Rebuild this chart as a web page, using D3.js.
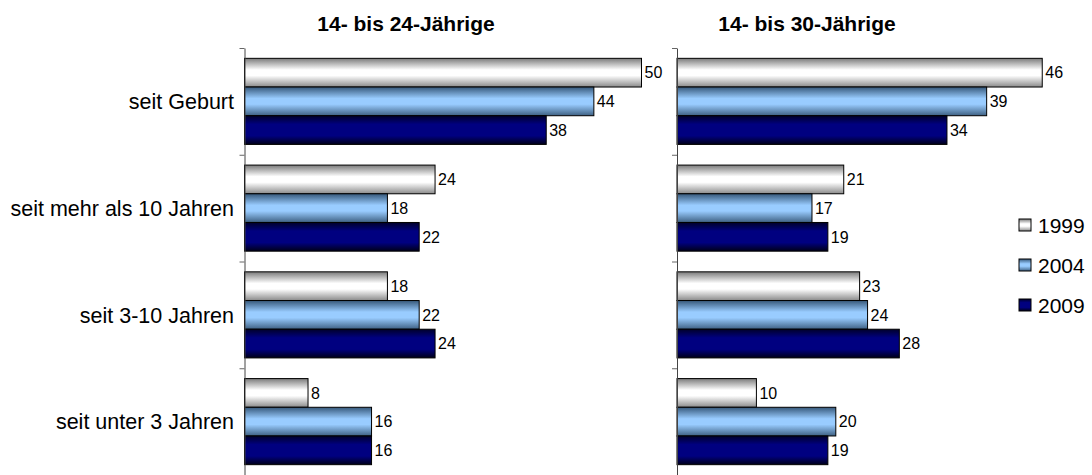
<!DOCTYPE html>
<html>
<head>
<meta charset="utf-8">
<script src="https://cdn.jsdelivr.net/npm/d3@7"></script>
<style>
  body { margin: 0; background: #fff; }
  svg text { font-family: "Liberation Sans", Arial, sans-serif; fill: #000; }
</style>
</head>
<body>
<div id="chart"></div>
<script>
// categories and series
var categories = ["seit Geburt", "seit mehr als 10 Jahren", "seit 3-10 Jahren", "seit unter 3 Jahren"];
var years = ["1999", "2004", "2009"];
var panelTitles = ["14- bis 24-Jährige", "14- bis 30-Jährige"];

// values per panel, one array per year (order follows categories)
var young1999 = [50, 24, 18, 8];
var young2004 = [44, 18, 22, 16];
var young2009 = [38, 22, 24, 16];

var older1999 = [46, 21, 23, 10];
var older2004 = [39, 17, 24, 20];
var older2009 = [34, 19, 28, 19];

var panels = [
    { title: panelTitles[0], series: [young1999, young2004, young2009], x0: 244.5, titleX: 406 },
    { title: panelTitles[1], series: [older1999, older2004, older2009], x0: 677, titleX: 807 }
];

var width = 1092, height = 475;
var pxPerUnit = 7.94;

var svg = d3.select("#chart").append("svg")
    .attr("width", width)
    .attr("height", height);

// gradients for the bars
var defs = svg.append("defs");
var grads = [
    { id: "g1999", stops: [[0, "#7a7a7a"], [0.4, "#ffffff"], [0.6, "#ffffff"], [1, "#8a8a8a"]] },
    { id: "g2004", stops: [[0, "#36587a"], [0.4, "#99ccff"], [0.6, "#99ccff"], [1, "#3e6082"]] },
    { id: "g2009", stops: [[0, "#00002a"], [0.3, "#000080"], [0.7, "#000080"], [1, "#000018"]] }
];
grads.forEach(function(g) {
    var lg = defs.append("linearGradient")
        .attr("id", g.id)
        .attr("x1", 0).attr("y1", 0).attr("x2", 0).attr("y2", 1);
    g.stops.forEach(function(s) {
        lg.append("stop").attr("offset", s[0]).attr("stop-color", s[1]);
    });
});

// vertical layout shared by both panels
var y = d3.scaleBand()
    .domain(categories)
    .range([48, 475])
    .padding(0);

var yInner = d3.scaleBand()
    .domain(years)
    .range([0, y.bandwidth()])
    .paddingInner(0)
    .paddingOuter(0.36);

var yBound = d3.scaleLinear()
    .domain([0, categories.length])
    .range([48, 475]);

panels.forEach(function(p) {
    var x = d3.scaleLinear()
        .domain([0, 50])
        .range([p.x0, p.x0 + 50 * pxPerUnit]);

    var g = svg.append("g");

    // panel title
    g.append("text")
        .attr("x", p.titleX)
        .attr("y", 31)
        .attr("text-anchor", "middle")
        .style("font-weight", "bold")
        .style("font-size", "21px")
        .text(p.title);

    var groups = g.selectAll(".grp")
        .data(categories)
        .enter().append("g")
        .attr("class", "grp")
        .attr("transform", function(d) { return "translate(0," + y(d) + ")"; });

    groups.selectAll("rect")
        .data(function(d, i) {
            return years.map(function(yr, j) { return { year: yr, value: p.series[j][i] }; });
        })
        .enter().append("rect")
        .attr("x", x(0))
        .attr("y", function(d) { return yInner(d.year); })
        .attr("width", function(d) { return x(d.value) - x(0); })
        .attr("height", yInner.bandwidth())
        .style("fill", function(d) { return "url(#g" + d.year + ")"; })
        .style("stroke", "#000")
        .style("stroke-width", 1);

    groups.selectAll(".val")
        .data(function(d, i) {
            return years.map(function(yr, j) { return { year: yr, value: p.series[j][i] }; });
        })
        .enter().append("text")
        .attr("class", "val")
        .attr("x", function(d) { return x(d.value) + 3; })
        .attr("y", function(d) { return yInner(d.year) + yInner.bandwidth() / 2; })
        .attr("dy", "0.36em")
        .style("font-size", "16px")
        .text(function(d) { return d.value; });

    // category axis with ticks between groups
    var axis = g.append("g")
        .attr("transform", "translate(" + x(0) + ",0)")
        .call(d3.axisLeft(yBound)
            .tickValues(d3.range(categories.length + 1))
            .tickFormat("")
            .tickSizeInner(5)
            .tickSizeOuter(0));
    axis.select(".domain").attr("stroke", "#444");
    axis.selectAll(".tick line").attr("stroke", "#666");
});

// category labels (left panel only)
svg.selectAll(".cat")
    .data(categories)
    .enter().append("text")
    .attr("class", "cat")
    .attr("x", 234)
    .attr("y", function(d) { return y(d) + y.bandwidth() / 2; })
    .attr("dy", "0.36em")
    .attr("text-anchor", "end")
    .style("font-size", "21.5px")
    .text(function(d) { return d; });

// legend
var legend = svg.selectAll(".legend")
    .data(years)
    .enter().append("g")
    .attr("class", "legend")
    .attr("transform", function(d, i) { return "translate(1019," + (219 + i * 40) + ")"; });

legend.append("rect")
    .attr("width", 12)
    .attr("height", 12)
    .style("fill", function(d) { return "url(#g" + d + ")"; })
    .style("stroke", "#000")
    .style("stroke-width", 1);

legend.append("text")
    .attr("x", 19)
    .attr("y", 6)
    .attr("dy", "0.36em")
    .style("font-size", "21px")
    .text(function(d) { return d; });
</script>
</body>
</html>
